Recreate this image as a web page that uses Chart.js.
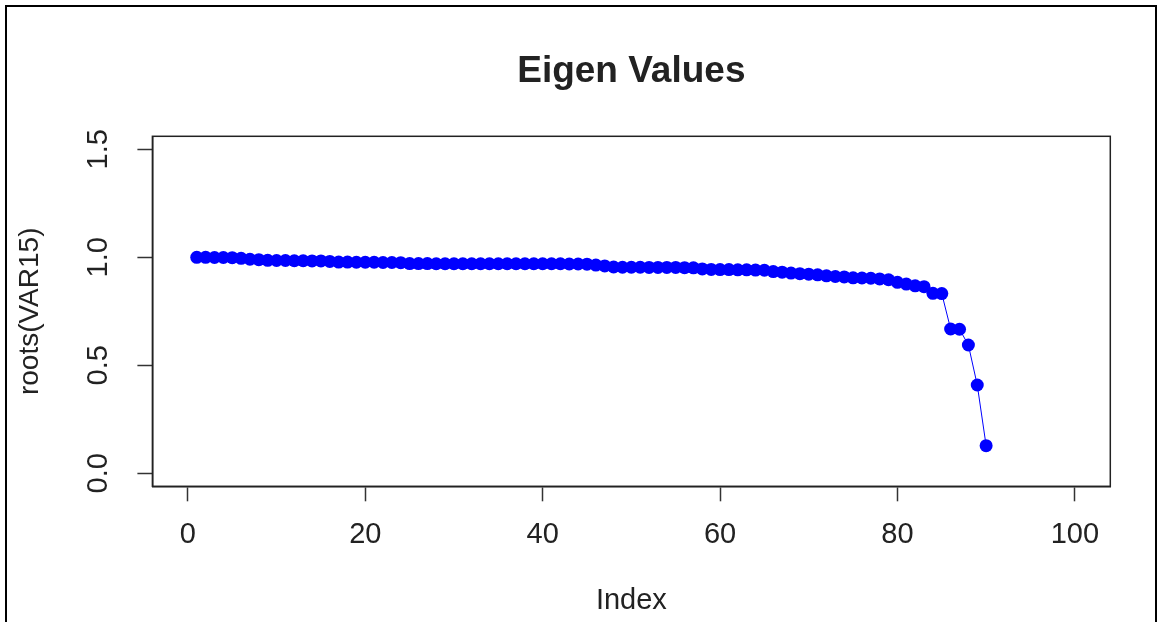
<!DOCTYPE html>
<html>
<head>
<meta charset="utf-8">
<script src="https://cdn.jsdelivr.net/npm/chart.js@4.4.1/dist/chart.umd.min.js"></script>
<style>
html,body{margin:0;padding:0;background:#fff;overflow:hidden;}
#wrap{position:relative;width:1159px;height:622px;}
</style>
</head>
<body>
<div id="wrap"><canvas id="c" width="1159" height="622"></canvas></div>
<script>
const chartTitle = "Eigen Values";
const xAxisTitle = "Index";
const yAxisTitle = "roots(VAR15)";
const xTicks = [0, 20, 40, 60, 80, 100];
const yTicks = [0.0, 0.5, 1.0, 1.5];
const indices = [
 1, 2, 3, 4, 5, 6, 7, 8, 9,10,
11,12,13,14,15,16,17,18,19,20,
21,22,23,24,25,26,27,28,29,30,
31,32,33,34,35,36,37,38,39,40,
41,42,43,44,45,46,47,48,49,50,
51,52,53,54,55,56,57,58,59,60,
61,62,63,64,65,66,67,68,69,70,
71,72,73,74,75,76,77,78,79,80,
81,82,83,84,85,86,87,88,89,90];
const eigenValues = [
1.000, 1.000, 0.999, 0.999, 0.998, 0.995, 0.991, 0.989, 0.986, 0.985,
0.985, 0.984, 0.984, 0.983, 0.983, 0.981, 0.978, 0.978, 0.977, 0.977,
0.977, 0.976, 0.976, 0.975, 0.971, 0.971, 0.971, 0.970, 0.970, 0.970,
0.970, 0.970, 0.970, 0.970, 0.970, 0.970, 0.970, 0.970, 0.970, 0.970,
0.970, 0.970, 0.969, 0.969, 0.968, 0.964, 0.960, 0.955, 0.954, 0.954,
0.954, 0.953, 0.953, 0.953, 0.953, 0.952, 0.951, 0.946, 0.944, 0.943,
0.943, 0.942, 0.942, 0.941, 0.940, 0.934, 0.931, 0.927, 0.924, 0.922,
0.919, 0.914, 0.911, 0.909, 0.905, 0.904, 0.903, 0.900, 0.896, 0.884,
0.876, 0.868, 0.864, 0.833, 0.832, 0.668, 0.667, 0.594, 0.409, 0.128];

const FONT = "'Liberation Sans', Arial, Helvetica, sans-serif";
const TXT = '#222';
const points = indices.map((x, i) => ({x: x, y: eigenValues[i]}));

const framePlugin = {
  id: 'frame',
  afterDraw(chart) {
    const ctx = chart.ctx, a = chart.chartArea;
    ctx.save();
    ctx.strokeStyle = '#222';
    ctx.lineWidth = 1.5;
    ctx.strokeRect(a.left, a.top, a.right - a.left, a.bottom - a.top);
    ctx.strokeStyle = '#000';
    ctx.lineWidth = 2;
    ctx.strokeRect(6, 6, 1150, 640);
    ctx.restore();
  }
};

new Chart(document.getElementById('c'), {
  type: 'line',
  data: {
    datasets: [{
      data: points,
      borderColor: '#0000ff',
      backgroundColor: '#0000ff',
      borderWidth: 1,
      pointRadius: 6.5,
      pointBorderWidth: 0,
      pointBackgroundColor: '#0000ff',
      tension: 0,
      fill: false
    }]
  },
  options: {
    responsive: false,
    animation: false,
    layout: {padding: {left: 0, right: 48.7, top: 0, bottom: 0}},
    plugins: {
      legend: {display: false},
      tooltip: {enabled: false},
      title: {
        display: true,
        text: chartTitle,
        fullSize: false,
        color: TXT,
        font: {family: FONT, size: 37, weight: 'bold'},
        padding: {top: 50, bottom: 41.9}
      }
    },
    scales: {
      x: {
        type: 'linear',
        min: -4, max: 104,
        afterFit(s) { s.height = 135.7; },
        grid: {drawOnChartArea: false, drawTicks: true, tickLength: 15, tickColor: '#333', tickWidth: 1.5},
        border: {display: true, color: '#222', width: 1.5},
        ticks: {
          includeBounds: false, stepSize: 20, autoSkip: false,
          maxRotation: 0, minRotation: 0,
          padding: 16, color: TXT,
          font: {family: FONT, size: 29},
          callback: (v) => xTicks.includes(v) ? String(v) : ''
        },
        title: {display: true, text: xAxisTitle, color: TXT,
          font: {family: FONT, size: 29}, padding: {top: 0, bottom: 4}}
      },
      y: {
        type: 'linear',
        min: -0.06, max: 1.56,
        afterFit(s) { s.width = 152.4; },
        grid: {drawOnChartArea: false, drawTicks: true, tickLength: 15, tickColor: '#333', tickWidth: 1.5},
        border: {display: true, color: '#222', width: 1.5},
        ticks: {
          includeBounds: false, stepSize: 0.5, autoSkip: false,
          minRotation: 90, maxRotation: 90,
          crossAlign: 'center',
          padding: 18, color: TXT,
          font: {family: FONT, size: 29},
          callback: (v) => {
            const m = yTicks.find(t => Math.abs(t - v) < 1e-9);
            return m === undefined ? '' : m.toFixed(1);
          }
        },
        title: {display: true, text: yAxisTitle, color: TXT,
          font: {family: FONT, size: 28}, padding: {top: 13, bottom: 0}}
      }
    }
  },
  plugins: [framePlugin]
});
</script>
</body>
</html>
